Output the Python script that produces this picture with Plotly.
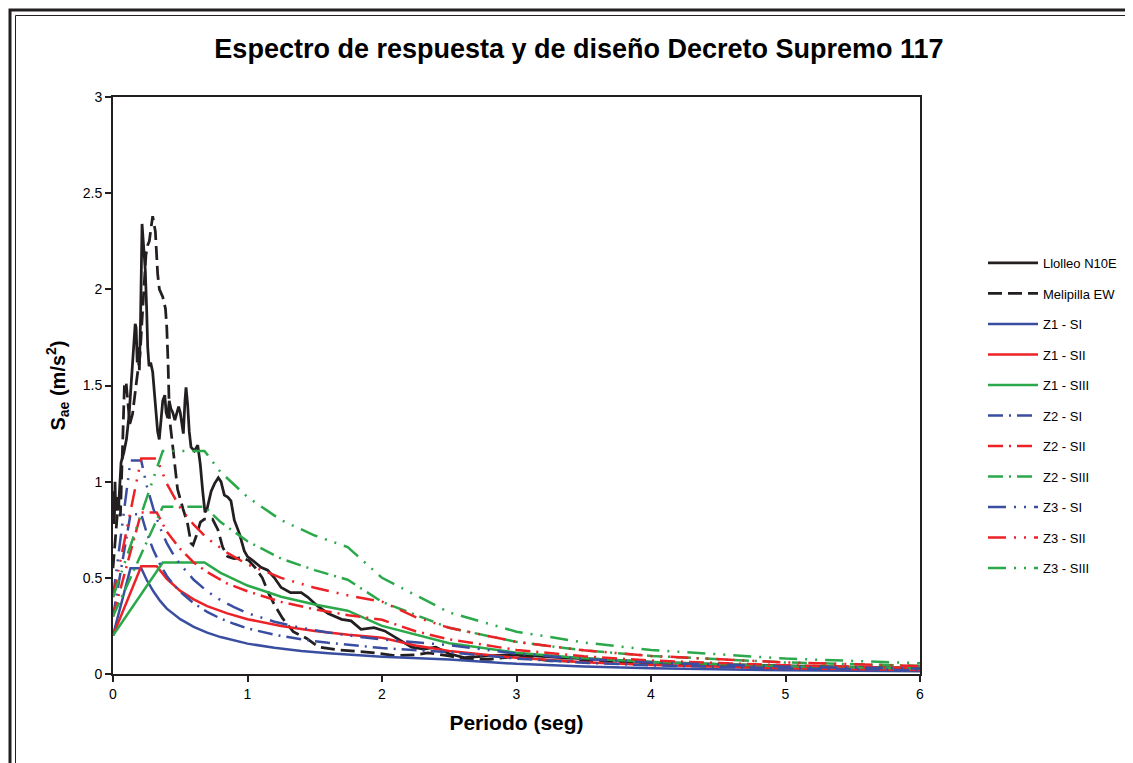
import plotly.graph_objects as go

# ---------------- data ----------------
llolleo_T = [0.0, 0.005, 0.01, 0.015, 0.02, 0.03, 0.04, 0.05, 0.06, 0.08, 0.1, 0.12, 0.135, 0.146,
             0.155, 0.165, 0.172, 0.18, 0.19, 0.196, 0.205, 0.216, 0.225, 0.24, 0.25, 0.258, 0.268,
             0.28, 0.295, 0.307, 0.32, 0.332, 0.344, 0.36, 0.37, 0.385, 0.395, 0.407, 0.418, 0.43,
             0.444, 0.46, 0.475, 0.488, 0.5, 0.513, 0.523, 0.535, 0.543, 0.555, 0.567, 0.58, 0.605,
             0.63, 0.649, 0.667, 0.684, 0.7, 0.73, 0.755, 0.783, 0.803, 0.828, 0.853, 0.877, 0.902,
             0.94, 0.976, 1.0, 1.04, 1.1, 1.15, 1.2, 1.25, 1.32, 1.4, 1.447, 1.52, 1.6, 1.7, 1.77,
             1.844, 1.94, 2.02, 2.12, 2.22, 2.31, 2.4, 2.5, 2.61, 2.79, 2.94, 3.13, 3.33, 3.63, 4.0,
             4.5, 5.0, 5.5, 6.0]
llolleo_S = [0.8, 0.95, 0.78, 1.0, 0.85, 0.92, 0.85, 1.0, 1.1, 1.15, 1.22, 1.35, 1.5, 1.6,
             1.72, 1.82, 1.8, 1.62, 1.7, 1.58, 1.85, 2.34, 2.25, 2.1, 1.9, 1.7, 1.6,
             1.62, 1.57, 1.48, 1.35, 1.26, 1.22, 1.35, 1.42, 1.45, 1.36, 1.33, 1.42, 1.38,
             1.36, 1.32, 1.36, 1.39, 1.36, 1.28, 1.25, 1.42, 1.49, 1.4, 1.26, 1.18, 1.16,
             1.19, 1.09, 0.95, 0.84, 0.86, 0.95, 0.99, 1.02, 1.0, 0.93, 0.92, 0.9, 0.8,
             0.73, 0.64, 0.61, 0.59, 0.555, 0.54, 0.5, 0.45, 0.423, 0.423, 0.4, 0.354, 0.314, 0.284, 0.276,
             0.232, 0.241, 0.224, 0.18, 0.14, 0.13, 0.14, 0.105, 0.085, 0.094, 0.1, 0.094, 0.085, 0.076, 0.062,
             0.05, 0.042, 0.036, 0.03]

melipilla_T = [0.0, 0.02, 0.04, 0.055, 0.07, 0.085, 0.097, 0.11, 0.125, 0.145, 0.16, 0.18, 0.2,
               0.215, 0.233, 0.245, 0.258, 0.27, 0.283, 0.295, 0.315, 0.332, 0.345, 0.37, 0.39,
               0.4, 0.41, 0.42, 0.44, 0.48, 0.52, 0.555, 0.58, 0.595, 0.62, 0.65, 0.68, 0.74,
               0.78, 0.815, 0.853, 0.9, 0.96, 1.01, 1.06, 1.11, 1.16, 1.2, 1.26, 1.34, 1.44,
               1.53, 1.68, 1.8, 1.95, 2.1, 2.25, 2.34, 2.5, 2.64, 2.8, 3.0, 3.25, 3.6, 4.0,
               4.5, 5.0, 5.5, 6.0]
melipilla_S = [0.55, 0.75, 0.9, 0.82, 1.2, 1.5, 1.52, 1.42, 1.3, 1.35, 1.45, 1.55, 1.65,
               1.85, 2.04, 2.18, 2.23, 2.25, 2.32, 2.38, 2.3, 2.08, 2.0, 1.96, 1.9,
               1.8, 1.6, 1.33, 1.21, 0.96, 0.86, 0.78, 0.68, 0.67, 0.72, 0.79, 0.805, 0.805,
               0.75, 0.66, 0.61, 0.6, 0.605, 0.59, 0.55, 0.5, 0.415, 0.36, 0.29, 0.22, 0.185,
               0.14, 0.125, 0.118, 0.11, 0.095, 0.1, 0.11, 0.094, 0.076, 0.076, 0.092, 0.068, 0.066, 0.052,
               0.04, 0.032, 0.028, 0.024]

# design spectra, soil I
T_SI = [0, 0.13, 0.21, 0.25, 0.3, 0.35, 0.4, 0.45, 0.5, 0.6, 0.7, 0.8, 0.9, 1.0, 1.2, 1.4,
        1.6, 1.8, 2.0, 2.5, 3.0, 3.5, 4.0, 5.0, 6.0]
z1_SI = [0.20, 0.55, 0.55, 0.49, 0.43, 0.38, 0.34, 0.31, 0.285, 0.245, 0.215, 0.192, 0.174, 0.158,
         0.136, 0.12, 0.108, 0.098, 0.09, 0.075, 0.053, 0.039, 0.03, 0.019, 0.014]
z2_SI = [0.30, 0.83, 0.83, 0.735, 0.645, 0.57, 0.51, 0.465, 0.428, 0.368, 0.323, 0.288, 0.261, 0.237,
         0.204, 0.18, 0.162, 0.147, 0.135, 0.113, 0.08, 0.059, 0.045, 0.029, 0.021]
z3_SI = [0.40, 1.11, 1.11, 0.98, 0.86, 0.76, 0.68, 0.62, 0.57, 0.49, 0.43, 0.384, 0.348, 0.316,
         0.272, 0.24, 0.216, 0.196, 0.18, 0.15, 0.106, 0.078, 0.06, 0.038, 0.028]

# soil II
T_SII = [0, 0.21, 0.325, 0.4, 0.5, 0.6, 0.7, 0.85, 1.0, 1.25, 1.5, 1.75, 2.0, 2.25, 2.5, 3.0,
         3.5, 4.0, 5.0, 6.0]
z1_SII = [0.20, 0.56, 0.56, 0.495, 0.432, 0.388, 0.353, 0.315, 0.285, 0.25, 0.224, 0.204, 0.188,
          0.148, 0.12, 0.084, 0.061, 0.047, 0.03, 0.021]
z2_SII = [0.30, 0.84, 0.84, 0.74, 0.65, 0.58, 0.53, 0.47, 0.43, 0.375, 0.336, 0.306, 0.282,
          0.222, 0.18, 0.125, 0.092, 0.07, 0.045, 0.031]
z3_SII = [0.40, 1.12, 1.12, 0.99, 0.864, 0.776, 0.706, 0.63, 0.57, 0.50, 0.448, 0.408, 0.376,
          0.296, 0.24, 0.167, 0.123, 0.094, 0.06, 0.042]

# soil III
T_SIII = [0, 0.37, 0.68, 0.8, 1.0, 1.25, 1.5, 1.745, 2.0, 2.5, 3.0, 3.5, 4.0, 5.0, 6.0]
z1_SIII = [0.20, 0.58, 0.58, 0.526, 0.46, 0.402, 0.361, 0.329, 0.25, 0.16, 0.111, 0.082, 0.063, 0.04, 0.028]
z2_SIII = [0.30, 0.87, 0.87, 0.79, 0.69, 0.60, 0.54, 0.49, 0.375, 0.24, 0.167, 0.123, 0.094, 0.06, 0.042]
z3_SIII = [0.40, 1.16, 1.16, 1.05, 0.92, 0.80, 0.72, 0.66, 0.50, 0.32, 0.22, 0.164, 0.125, 0.08, 0.056]

x_ticks = [0, 1, 2, 3, 4, 5, 6]
y_ticks = [0, 0.5, 1, 1.5, 2, 2.5, 3]
y_tick_labels = ["0", "0.5", "1", "1.5", "2", "2.5", "3"]

# ---------------- styles ----------------
BLACK = "#231f20"
BLUE = "#3a4ea1"
RED = "#ec2227"
GREEN = "#2aa84a"
DASH_Z2 = "15px,6px,2px,6px"
DASH_Z3 = "18px,8px,2px,8px,2px,8px"
FONT = "Arial, Liberation Sans, Helvetica, sans-serif"

series = [
    ("Llolleo N10E", llolleo_T, llolleo_S, BLACK, "solid", 2.75),
    ("Melipilla EW", melipilla_T, melipilla_S, BLACK, "14px,6px", 2.75),
    ("Z1 - SI", T_SI, z1_SI, BLUE, "solid", 2.5),
    ("Z1 - SII", T_SII, z1_SII, RED, "solid", 2.5),
    ("Z1 - SIII", T_SIII, z1_SIII, GREEN, "solid", 2.5),
    ("Z2 - SI", T_SI, z2_SI, BLUE, DASH_Z2, 2.5),
    ("Z2 - SII", T_SII, z2_SII, RED, DASH_Z2, 2.5),
    ("Z2 - SIII", T_SIII, z2_SIII, GREEN, DASH_Z2, 2.5),
    ("Z3 - SI", T_SI, z3_SI, BLUE, DASH_Z3, 2.5),
    ("Z3 - SII", T_SII, z3_SII, RED, DASH_Z3, 2.5),
    ("Z3 - SIII", T_SIII, z3_SIII, GREEN, DASH_Z3, 2.5),
]

fig = go.Figure()
for i, (name, xs, ys, col, dash, w) in enumerate(series):
    fig.add_trace(go.Scatter(x=xs, y=ys, mode="lines", name=name, legendgroup=f"g{i}",
                             line=dict(color=col, dash=dash, width=w)))

# page offset of the figure inside the browser window (body margin)
OFF = 7
# target plot area on screen: x 112..919, y 96..673
L, T = 112 - OFF, 96 - OFF
pw, ph = 807, 577
W, H = 1133, 763
R = W - L - pw
B = H - T - ph


def px(sx):
    return (sx - OFF - L) / pw


def py(sy):
    return (T + ph - (sy - OFF)) / ph


fig.update_layout(
    width=W, height=H,
    margin=dict(l=L, r=R, t=T, b=B, autoexpand=False),
    paper_bgcolor="white", plot_bgcolor="white",
    font=dict(family=FONT, color="black", size=12),
    title=dict(text="<b>Espectro de respuesta y de diseño Decreto Supremo 117</b>",
               x=px(578), xref="paper", xanchor="center", y=1 - (48 - OFF) / H, yanchor="middle",
               font=dict(size=27, family=FONT, color="black")),
    showlegend=True,
    legend=dict(x=px(982), y=py(247), xanchor="left", yanchor="top",
                font=dict(size=13, family=FONT, color="black"),
                tracegroupgap=10.6, bgcolor="rgba(0,0,0,0)", itemwidth=50),
    xaxis=dict(range=[0, 6], tickvals=x_ticks, ticks="outside", ticklen=6, tickwidth=2,
               tickcolor=BLACK, showline=True, linecolor=BLACK, linewidth=2, mirror=True,
               showgrid=False, zeroline=False, tickfont=dict(size=14, family=FONT),
               title=dict(text="<b>Periodo (seg)</b>", standoff=15,
                          font=dict(size=21, family=FONT))),
    yaxis=dict(range=[0, 3], tickvals=y_ticks, ticktext=y_tick_labels, ticks="outside",
               ticklen=6, tickwidth=2, tickcolor=BLACK, showline=True, linecolor=BLACK,
               linewidth=2, mirror=True, showgrid=False, zeroline=False,
               tickfont=dict(size=14, family=FONT),
               title=dict(text="<b>S<sub>ae</sub> (m/s<sup>2</sup>)</b>", standoff=12,
                          font=dict(size=20, family=FONT))),
    shapes=[
        dict(type="rect", xref="paper", yref="paper", x0=px(9), x1=px(1160), y0=py(790), y1=py(9),
             line=dict(color=BLACK, width=3), layer="below"),
        dict(type="rect", xref="paper", yref="paper", x0=px(14.5), x1=px(1160), y0=py(790), y1=py(14.5),
             line=dict(color=BLACK, width=1), layer="below"),
    ],
)

fig.write_html("out.html")
